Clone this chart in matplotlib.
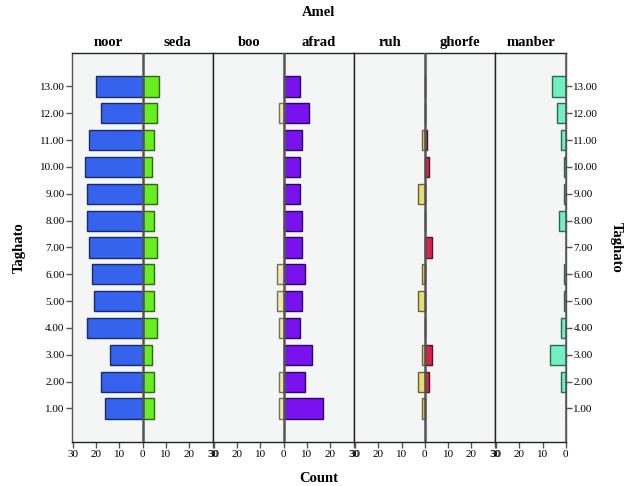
import matplotlib
matplotlib.use("Agg")
import matplotlib.pyplot as plt

plt.rcParams['font.family'] = ['Liberation Serif', 'DejaVu Serif']

# Taghato levels (1..13)
taghato = [1, 2, 3, 4, 5, 6, 7, 8, 9, 10, 11, 12, 13]
tick_labels = ["%d.00" % t for t in taghato]

# counts per Amel category (row 1.00 first)
noor = [16, 18, 14, 24, 21, 22, 23, 24, 24, 25, 23, 18, 20]
seda = [5, 5, 4, 6, 5, 5, 6, 5, 6, 4, 5, 6, 7]
boo = [2, 2, 0, 2, 3, 3, 0, 0, 0, 0, 0, 2, 0]
afrad = [17, 9, 12, 7, 8, 9, 8, 8, 7, 7, 8, 11, 7]
ruh = [1, 3, 1, 0, 3, 1, 0, 0, 3, 0, 1, 0, 0]
ghorfe = [0, 2, 3, 0, 0, 0, 3, 0, 0, 2, 1, 0, 0]
manber = [0, 2, 7, 2, 1, 1, 0, 3, 1, 1, 2, 4, 6]

# (left series, right series) for each panel
pairs = [
    (("noor", noor, "#3563EE", "#1a2a66"), ("seda", seda, "#66EE22", "#2d6a10")),
    (("boo", boo, "#EDE6BC", "#7a7440"), ("afrad", afrad, "#7A12F0", "#2a0860")),
    (("ruh", ruh, "#E4DC78", "#6a6030"), ("ghorfe", ghorfe, "#E0204A", "#5a1020")),
    (("manber", manber, "#72F0C2", "#2a6a50"), None),
]

fig = plt.figure(figsize=(6.28, 4.86), dpi=100)
gs = fig.add_gridspec(1, 4, width_ratios=[2, 2, 2, 1], wspace=0,
                      left=0.115, right=0.901, top=0.890, bottom=0.0905)

lim = 30.3
for i, (left, right) in enumerate(pairs):
    ax = fig.add_subplot(gs[0, i])
    ax.set_facecolor("#F4F6F6")

    name, vals, fc, ec = left
    ax.barh(taghato, [-v for v in vals], height=0.75, color=fc, edgecolor=ec,
            linewidth=1, zorder=2)
    ax.text(-15, 1.012, name, transform=ax.get_xaxis_transform(), ha="center",
            va="bottom", fontsize=10.5, weight="bold")
    if right is not None:
        name, vals, fc, ec = right
        ax.barh(taghato, vals, height=0.75, color=fc, edgecolor=ec,
                linewidth=1, zorder=2)
        ax.text(15, 1.012, name, transform=ax.get_xaxis_transform(), ha="center",
                va="bottom", fontsize=10.5, weight="bold")
        ax.set_xlim(-lim, lim)
        xt = [-30, -20, -10, 0, 10, 20, 30]
    else:
        ax.set_xlim(-lim, 0)
        xt = [-30, -20, -10, 0]

    ax.axvline(0, color="#555555", lw=1.8, zorder=3)
    ax.set_xticks(xt)
    ax.set_xticklabels([str(abs(t)) for t in xt], fontsize=8)
    ax.set_ylim(-0.25, 14.23)

    for s in ax.spines.values():
        s.set_color("#222222")
        s.set_linewidth(1.0)

    if i == 0:
        ax.set_yticks(taghato)
        ax.set_yticklabels(tick_labels, fontsize=8)
        ax.spines["left"].set_color("#555555")
    elif i == len(pairs) - 1:
        ax.yaxis.tick_right()
        ax.set_yticks(taghato)
        ax.set_yticklabels(tick_labels, fontsize=8)
        ax.spines["right"].set_color("#555555")
    else:
        ax.set_yticks([])
    ax.tick_params(length=4, width=1, color="#555555", pad=1.5)

fig.text(0.507, 0.975, "Amel", ha="center", va="center", fontsize=10.5, weight="bold")
fig.text(0.507, 0.016, "Count", ha="center", va="center", fontsize=10.5, weight="bold")
fig.text(0.03, 0.49, "Taghato", ha="center", va="center", rotation=90,
         fontsize=10.5, weight="bold")
fig.text(0.982, 0.49, "Taghato", ha="center", va="center", rotation=-90,
         fontsize=10.5, weight="bold")

fig.savefig("out.png", dpi=100)
